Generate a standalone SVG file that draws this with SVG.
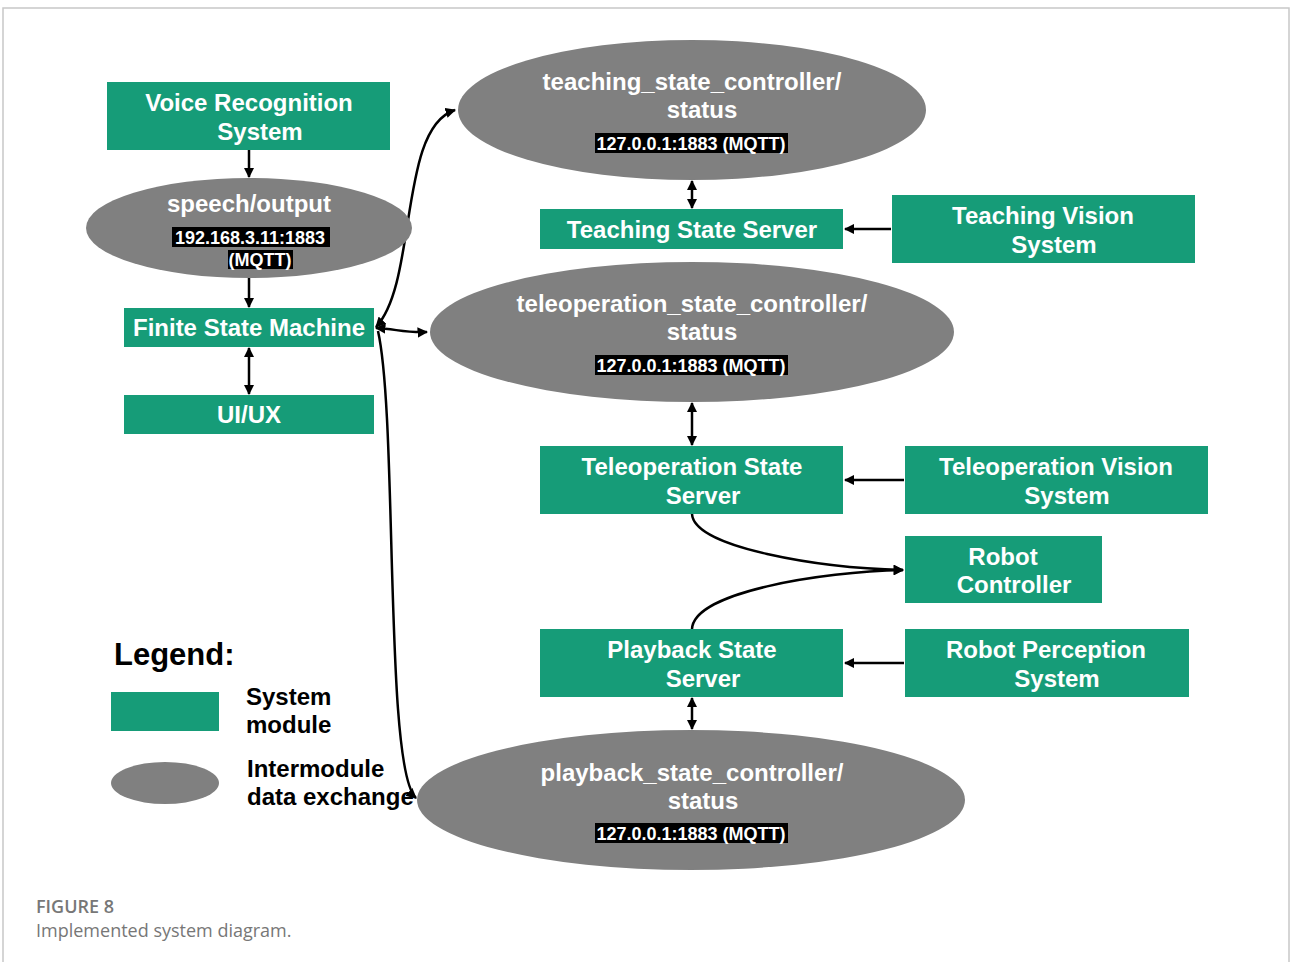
<svg xmlns="http://www.w3.org/2000/svg" width="1290" height="962" viewBox="0 0 1290 962">
  <defs>
    <marker id="ah" viewBox="0 0 10 10" refX="9" refY="5" markerWidth="4.2" markerHeight="4.2" orient="auto-start-reverse" markerUnits="strokeWidth">
      <path d="M0,0 L10,5 L0,10 z" fill="#000"/>
    </marker>
    <style>
      .mod { fill: #169c78; }
      .bus { fill: #808080; }
      .t { font-family: "Liberation Sans", Arial, sans-serif; font-weight: bold; font-size: 24px; fill: #fff; text-anchor: middle; }
      .ip { font-family: "Liberation Sans", Arial, sans-serif; font-weight: bold; font-size: 18px; fill: #fff; text-anchor: middle; }
      .ipbg { fill: #000; }
      .lg { font-family: "Liberation Sans", Arial, sans-serif; font-weight: bold; font-size: 24px; fill: #000; }
      .lgh { font-size: 31px; }
      .cap { font-family: "Open Sans", "Liberation Sans", sans-serif; font-size: 18px; fill: #777; }
      .caph { font-weight: 600; }
      .c { fill: none; stroke: #000; stroke-width: 2.5; }
    </style>
  </defs>

  <rect width="1290" height="962" fill="#fff"/>
  <!-- panel frame -->
  <path d="M3,962 V8 H1289 V962" fill="none" stroke="#c8c8c8" stroke-width="1.5"/>

  <!-- connectors -->
  <g id="connectors">
    <line class="c" x1="249" y1="150" x2="249" y2="177" marker-end="url(#ah)"/>
    <line class="c" x1="249" y1="278" x2="249" y2="307" marker-end="url(#ah)"/>
    <line class="c" x1="249" y1="348" x2="249" y2="394" marker-start="url(#ah)" marker-end="url(#ah)"/>
    <line class="c" x1="692" y1="181" x2="692" y2="208" marker-start="url(#ah)" marker-end="url(#ah)"/>
    <line class="c" x1="891" y1="229" x2="845" y2="229" marker-end="url(#ah)"/>
    <line class="c" x1="692" y1="403" x2="692" y2="445" marker-start="url(#ah)" marker-end="url(#ah)"/>
    <line class="c" x1="904" y1="480" x2="845" y2="480" marker-end="url(#ah)"/>
    <line class="c" x1="904" y1="663" x2="845" y2="663" marker-end="url(#ah)"/>
    <line class="c" x1="692" y1="698" x2="692" y2="729" marker-start="url(#ah)" marker-end="url(#ah)"/>
    <path class="c" d="M692,514 C694,548 820,568 903,570" marker-end="url(#ah)"/>
    <path class="c" d="M692,629 C694,592 820,572 903,570" marker-end="url(#ah)"/>
    <path class="c" d="M376,327 C418,282 398,128 455,110" marker-start="url(#ah)" marker-end="url(#ah)"/>
    <path class="c" d="M376,328 C396,329 405,333 427,332" marker-start="url(#ah)" marker-end="url(#ah)"/>
    <path class="c" d="M378,331 C398,420 384,770 416,798" marker-end="url(#ah)"/>
  </g>

  <!-- left column -->
  <g id="voice-recognition">
    <rect class="mod" x="107" y="82" width="283" height="68"/>
    <text class="t" x="249" y="111">Voice Recognition</text>
    <text class="t" x="260" y="140">System</text>
  </g>
  <g id="speech-output">
    <ellipse class="bus" cx="249" cy="228" rx="163" ry="50"/>
    <text class="t" x="249" y="212">speech/output</text>
    <rect class="ipbg" x="172" y="227" width="158" height="20"/>
    <text class="ip" x="250" y="244">192.168.3.11:1883</text>
    <rect class="ipbg" x="228" y="250" width="65" height="19"/>
    <text class="ip" x="260" y="266">(MQTT)</text>
  </g>
  <g id="finite-state-machine">
    <rect class="mod" x="124" y="308" width="250" height="39"/>
    <text class="t" x="249" y="336">Finite State Machine</text>
  </g>
  <g id="ui-ux">
    <rect class="mod" x="124" y="395" width="250" height="39"/>
    <text class="t" x="249" y="423">UI/UX</text>
  </g>

  <!-- teaching -->
  <g id="teaching-status">
    <ellipse class="bus" cx="692" cy="110" rx="234" ry="70"/>
    <text class="t" x="692" y="90">teaching_state_controller/</text>
    <text class="t" x="702" y="118">status</text>
    <rect class="ipbg" x="595" y="133" width="193" height="20"/>
    <text class="ip" x="691" y="150">127.0.0.1:1883 (MQTT)</text>
  </g>
  <g id="teaching-state-server">
    <rect class="mod" x="540" y="209" width="303" height="40"/>
    <text class="t" x="692" y="238">Teaching State Server</text>
  </g>
  <g id="teaching-vision">
    <rect class="mod" x="892" y="195" width="303" height="68"/>
    <text class="t" x="1043" y="224">Teaching Vision</text>
    <text class="t" x="1054" y="253">System</text>
  </g>

  <!-- teleoperation -->
  <g id="teleoperation-status">
    <ellipse class="bus" cx="692" cy="332" rx="262" ry="70"/>
    <text class="t" x="692" y="312">teleoperation_state_controller/</text>
    <text class="t" x="702" y="340">status</text>
    <rect class="ipbg" x="595" y="355" width="193" height="20"/>
    <text class="ip" x="691" y="372">127.0.0.1:1883 (MQTT)</text>
  </g>
  <g id="teleoperation-state-server">
    <rect class="mod" x="540" y="446" width="303" height="68"/>
    <text class="t" x="692" y="475">Teleoperation State</text>
    <text class="t" x="703" y="504">Server</text>
  </g>
  <g id="teleoperation-vision">
    <rect class="mod" x="905" y="446" width="303" height="68"/>
    <text class="t" x="1056" y="475">Teleoperation Vision</text>
    <text class="t" x="1067" y="504">System</text>
  </g>
  <g id="robot-controller">
    <rect class="mod" x="905" y="536" width="197" height="67"/>
    <text class="t" x="1003" y="565">Robot</text>
    <text class="t" x="1014" y="593">Controller</text>
  </g>

  <!-- playback -->
  <g id="playback-state-server">
    <rect class="mod" x="540" y="629" width="303" height="68"/>
    <text class="t" x="692" y="658">Playback State</text>
    <text class="t" x="703" y="687">Server</text>
  </g>
  <g id="robot-perception">
    <rect class="mod" x="905" y="629" width="284" height="68"/>
    <text class="t" x="1046" y="658">Robot Perception</text>
    <text class="t" x="1057" y="687">System</text>
  </g>
  <g id="playback-status">
    <ellipse class="bus" cx="691" cy="800" rx="274" ry="70"/>
    <text class="t" x="692" y="781">playback_state_controller/</text>
    <text class="t" x="703" y="809">status</text>
    <rect class="ipbg" x="595" y="823" width="193" height="20"/>
    <text class="ip" x="691" y="840">127.0.0.1:1883 (MQTT)</text>
  </g>

  <!-- legend -->
  <g id="legend">
    <text class="lg lgh" x="114" y="665">Legend:</text>
    <rect class="mod" x="111" y="692" width="108" height="39"/>
    <text class="lg" x="246" y="705">System</text>
    <text class="lg" x="246" y="733">module</text>
    <ellipse class="bus" cx="165" cy="783" rx="54" ry="21"/>
    <text class="lg" x="247" y="777">Intermodule</text>
    <text class="lg" x="247" y="805">data exchange</text>
  </g>

  <!-- caption -->
  <g id="caption">
    <text class="cap caph" x="36" y="913">FIGURE 8</text>
    <text class="cap" x="36" y="937">Implemented system diagram.</text>
  </g>
</svg>
